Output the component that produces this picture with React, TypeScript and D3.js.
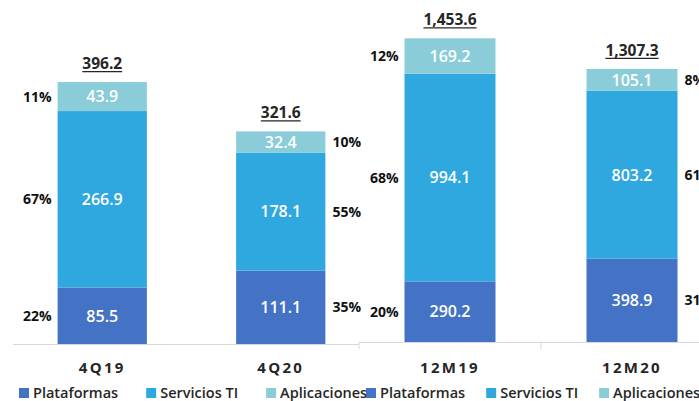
import React, { useEffect, useRef } from "react";
import * as d3 from "d3";

// series
const seriesKeys = ["Plataformas", "Servicios TI", "Aplicaciones"];
const seriesColors = ["#4472C4", "#2FA8DF", "#8ACDD9"];

// quarter panel
const quarterCats = ["4Q19", "4Q20"];
const quarterPlataformas = [85.5, 111.1];
const quarterServicios = [266.9, 178.1];
const quarterAplicaciones = [43.9, 32.4];
const quarterTotals = [396.2, 321.6];
const quarterShares = [[22, 67, 11], [35, 55, 10]];

// twelve-month panel
const yearCats = ["12M19", "12M20"];
const yearPlataformas = [290.2, 398.9];
const yearServicios = [994.1, 803.2];
const yearAplicaciones = [169.2, 105.1];
const yearTotals = [1453.6, 1307.3];
const yearShares = [[20, 68, 12], [31, 61, 8]];

const W = 699;
const H = 401;
const FONT = "'Open Sans', 'Noto Sans', sans-serif";
const INK = "#262626";

function drawPanel(svg, opts) {
  const { cats, values, totals, shares, xRange, baseline, yMax, yTop, ticks, axisEnd } = opts;
  const g = svg.append("g");

  const rows = cats.map((c, i) => ({
    cat: c,
    Plataformas: values[0][i],
    "Servicios TI": values[1][i],
    Aplicaciones: values[2][i],
  }));
  const layers = d3.stack().keys(seriesKeys)(rows);

  const x = d3.scaleBand().domain(cats).range(xRange).paddingInner(0.5).paddingOuter(0.25);
  const y = d3.scaleLinear().domain([0, yMax]).range([baseline, yTop]);

  // axis line
  g.append("line")
    .attr("x1", xRange[0]).attr("x2", axisEnd)
    .attr("y1", baseline + 0.5).attr("y2", baseline + 0.5)
    .attr("stroke", "#D9D9D9").attr("stroke-width", 1);
  if (ticks) {
    const step = x.step();
    d3.range(cats.length + 1).forEach((k) => {
      const tx = xRange[0] + k * step;
      g.append("line")
        .attr("x1", tx).attr("x2", tx)
        .attr("y1", baseline).attr("y2", baseline + 7)
        .attr("stroke", "#D9D9D9");
    });
  }

  // bars
  layers.forEach((layer, li) => {
    g.append("g")
      .attr("fill", seriesColors[li])
      .selectAll("rect")
      .data(layer)
      .join("rect")
      .attr("x", (d) => x(d.data.cat))
      .attr("width", x.bandwidth())
      .attr("y", (d) => y(d[1]))
      .attr("height", (d) => y(d[0]) - y(d[1]));

    // values inside
    g.append("g")
      .selectAll("text")
      .data(layer)
      .join("text")
      .attr("x", (d) => x(d.data.cat) + x.bandwidth() / 2)
      .attr("y", (d) => (y(d[0]) + y(d[1])) / 2)
      .attr("dy", "0.36em")
      .attr("text-anchor", "middle")
      .attr("fill", "#fff")
      .attr("font-family", FONT)
      .attr("font-weight", 600)
      .attr("font-size", 16)
      .text((d) => d3.format(".1f")(d[1] - d[0]));

    // shares beside
    g.append("g")
      .selectAll("text")
      .data(layer)
      .join("text")
      .attr("x", (d, i) => (i === 0 ? x(d.data.cat) - 6 : x(d.data.cat) + x.bandwidth() + 7))
      .attr("y", (d) => (y(d[0]) + y(d[1])) / 2)
      .attr("dy", "0.36em")
      .attr("text-anchor", (d, i) => (i === 0 ? "end" : "start"))
      .attr("fill", "#111")
      .attr("font-family", FONT)
      .attr("font-weight", 700)
      .attr("font-size", 14)
      .text((d, i) => shares[i][li] + "%");
  });

  // totals, underlined
  cats.forEach((c, i) => {
    const cx = x(c) + x.bandwidth() / 2;
    const top = y(d3.sum(values, (v) => v[i]));
    const t = g.append("text")
      .attr("x", cx)
      .attr("y", top - 13)
      .attr("text-anchor", "middle")
      .attr("fill", INK)
      .attr("font-family", FONT)
      .attr("font-weight", 700)
      .attr("font-size", 15.5)
      .text(d3.format(",.1f")(totals[i]));
    const w = t.node().getComputedTextLength();
    g.append("line")
      .attr("x1", cx - w / 2).attr("x2", cx + w / 2)
      .attr("y1", top - 10.5).attr("y2", top - 10.5)
      .attr("stroke", INK).attr("stroke-width", 1.3);
  });

  // category labels
  g.append("g")
    .selectAll("text")
    .data(cats)
    .join("text")
    .attr("x", (c) => x(c) + x.bandwidth() / 2)
    .attr("y", 373)
    .attr("text-anchor", "middle")
    .attr("fill", INK)
    .attr("font-family", FONT)
    .attr("font-weight", 700)
    .attr("font-size", 15)
    .attr("letter-spacing", 2.3)
    .text((c) => c);
}

function drawLegend(svg, startX, gap) {
  const g = svg.append("g");
  let cx = startX;
  seriesKeys.forEach((k, i) => {
    g.append("rect")
      .attr("x", cx).attr("y", 388)
      .attr("width", 10).attr("height", 10)
      .attr("fill", seriesColors[i]);
    const t = g.append("text")
      .attr("x", cx + 14)
      .attr("y", 398)
      .attr("fill", INK)
      .attr("font-family", FONT)
      .attr("font-weight", 600)
      .attr("font-size", 14.5)
      .text(k);
    cx += 14 + t.node().getComputedTextLength() + gap;
  });
}

export default function App() {
  const svgRef = useRef(null);

  useEffect(() => {
    const svg = d3.select(svgRef.current);
    svg.selectAll("*").remove();

    drawPanel(svg, {
      cats: quarterCats,
      values: [quarterPlataformas, quarterServicios, quarterAplicaciones],
      totals: quarterTotals,
      shares: quarterShares,
      xRange: [13, 370],
      baseline: 344,
      yMax: 400,
      yTop: 79.6,
      ticks: false,
      axisEnd: 359,
    });

    drawPanel(svg, {
      cats: yearCats,
      values: [yearPlataformas, yearServicios, yearAplicaciones],
      totals: yearTotals,
      shares: yearShares,
      xRange: [359, 723],
      baseline: 342,
      yMax: 1500,
      yTop: 28.6,
      ticks: true,
      axisEnd: 723,
    });

    drawLegend(svg, 19, 28);
    drawLegend(svg, 366, 21);
  }, []);

  return (
    <svg
      ref={svgRef}
      width={W}
      height={H}
      style={{ position: "absolute", left: 0, top: 0, background: "#fff" }}
    />
  );
}
